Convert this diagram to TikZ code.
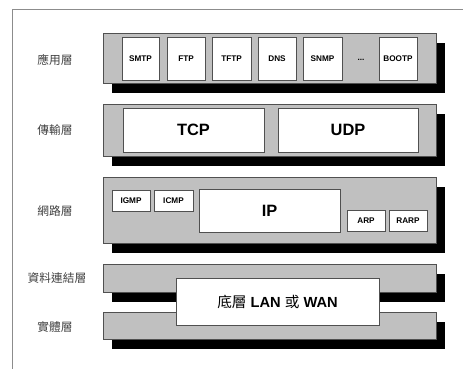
\documentclass[tikz,border=0pt]{standalone}
\usepackage{fontspec}
\setmainfont{Liberation Sans}
\newfontfamily\cjk{Noto Sans CJK TC}
\usetikzlibrary{fit, shadows}
\definecolor{LayerGray}{HTML}{C0C0C0}
\definecolor{EdgeGray}{HTML}{505050}
\definecolor{TextGray}{HTML}{404040}
\definecolor{FrameGray}{HTML}{8C8C8C}

\begin{document}
\begin{tikzpicture}[x=0.03cm, y=-0.03cm,
   layer/.style={draw=EdgeGray, fill=LayerGray, inner sep=0pt, line width=0.5pt,
      drop shadow={shadow xshift=0.27cm, shadow yshift=-0.3cm, opacity=1, fill=black}},
   proto/.style={draw=EdgeGray, fill=white, inner sep=0pt, line width=0.5pt,
      label={[font=\bfseries\fontsize{7}{8}\selectfont]center:#1}},
   bigproto/.style={draw=EdgeGray, fill=white, inner sep=0pt, line width=0.5pt,
      label={[font=\bfseries\fontsize{14}{16}\selectfont]center:#1}},
   layername/.style={text=TextGray, font=\cjk\fontsize{10}{12}\selectfont}]
      \useasboundingbox (0,0) rectangle (463,369);
      % Frame
      \draw[FrameGray, line width=0.6pt] (12,369) -- (12,9) -- (463,9);
      % Application layer
      \node[layer, fit={(103,33) (436,83)}] (app) {};
      \node[layername] (appname) at (55,60) {應用層};
      \node[proto=SMTP, fit={(122,37) (159,80)}] (smtp) {};
      \node[proto=FTP, fit={(167,37) (205,80)}] (ftp) {};
      \node[proto=TFTP, fit={(212,37) (251,80)}] (tftp) {};
      \node[proto=DNS, fit={(258,37) (296,80)}] (dns) {};
      \node[proto=SNMP, fit={(303,37) (342,80)}] (snmp) {};
      \node[font=\bfseries\fontsize{7}{8}\selectfont, anchor=base] (dots) at (361,61) {...};
      \node[proto=BOOTP, fit={(379,37) (417,80)}] (bootp) {};
      % Transport layer
      \node[layer, fit={(103,104) (436,156)}] (trans) {};
      \node[layername] (transname) at (55,130) {傳輸層};
      \node[bigproto=TCP, fit={(123,108) (264,152)}] (tcp) {};
      \node[bigproto=UDP, fit={(278,108) (418,152)}] (udp) {};
      % Network layer
      \node[layer, fit={(103,177) (436,243)}] (net) {};
      \node[layername] (netname) at (55,211) {網路層};
      \node[proto=IGMP, fit={(112,190) (150,211)}] (igmp) {};
      \node[proto=ICMP, fit={(154,190) (193,211)}] (icmp) {};
      \node[bigproto=IP, fit={(199,189) (340,232)}] (ip) {};
      \node[proto=ARP, fit={(347,210) (385,231)}] (arp) {};
      \node[proto=RARP, fit={(389,210) (427,231)}] (rarp) {};
      % Data link and physical layers
      \node[layer, fit={(103,264) (436,292)}] (link) {};
      \node[layername] (linkname) at (57,278) {資料連結層};
      \node[layer, fit={(103,312) (436,339)}] (phys) {};
      \node[layername] (physname) at (55,327) {實體層};
      \node[draw=EdgeGray, fill=white, inner sep=0pt, line width=0.5pt, fit={(176,278) (379,325)},
         label={[font=\bfseries\fontsize{12.5}{14}\selectfont]center:{\cjk\mdseries 底層} LAN {\cjk\mdseries 或} WAN}] (lan) {};
   \end{tikzpicture}
\end{document}
